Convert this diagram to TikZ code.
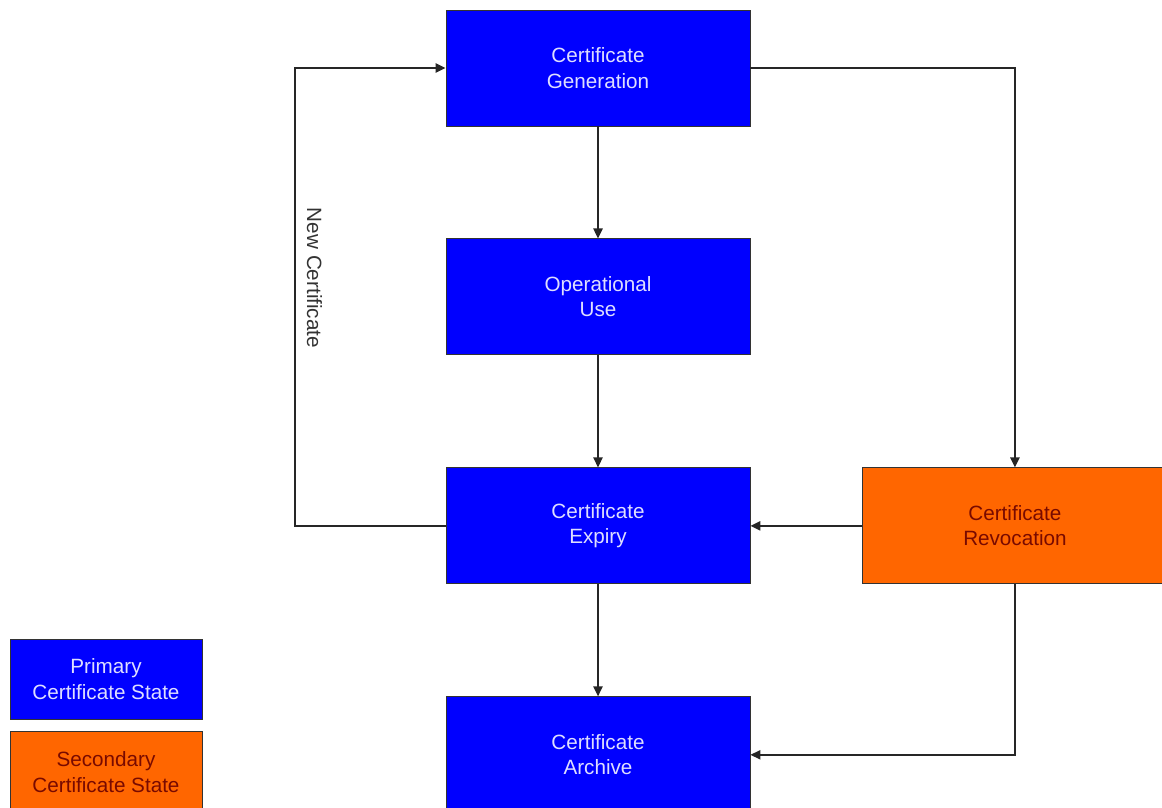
\documentclass[tikz,border=0pt]{standalone}
\usepackage{fontspec}
\setmainfont{Liberation Sans}
\usetikzlibrary{positioning, arrows.meta}
\definecolor{stateblue}{RGB}{0,0,255}
\definecolor{stateorange}{RGB}{255,102,0}
\definecolor{bluetext}{RGB}{222,222,255}
\definecolor{orangetext}{RGB}{120,10,0}

\begin{document}
\begin{tikzpicture}[x=0.75pt,y=-0.75pt,%
  node distance=84pt,
  StateStyle/.style={shape=rectangle,draw=black!80,line width=0.7pt,align=center,
    minimum width=228pt,minimum height=87pt,
    font=\fontsize{15.5}{19}\selectfont},
  PrimaryStyle/.style={StateStyle,fill=stateblue,text=bluetext},
  SecondaryStyle/.style={StateStyle,fill=stateorange,text=orangetext},
  KeyStyle/.style={minimum width=144pt,minimum height=60pt},
  EdgeStyle/.style={draw=black!85,line width=1.1pt,-{Triangle[length=7.5pt,width=7pt]}},
  LabelStyle/.style={rotate=-90,anchor=south,inner sep=9pt,outer sep=0pt,
    text=black!80,font=\fontsize{15.5}{19}\selectfont}]
  \useasboundingbox (0,0) rectangle (1162,807);
  \node[PrimaryStyle] (gen) at (598,68) {Certificate\\Generation};   % top state
  \node[PrimaryStyle,below=of gen] (use) {Operational\\Use};          % below generation
  \node[PrimaryStyle,below=of use] (exp) {Certificate\\Expiry};       % below use
  \node[PrimaryStyle,below=of exp] (arc) {Certificate\\Archive};      % below expiry
  \node[SecondaryStyle,right=of exp] (rev) {Certificate\\Revocation}; % east of expiry
  \node[PrimaryStyle,KeyStyle] (key1) at (106,679) {Primary\\Certificate State};
  \node[SecondaryStyle,KeyStyle,below=9pt of key1] (key2) {Secondary\\Certificate State};
  \coordinate (back) at (295,278);
  \draw[EdgeStyle] (gen) -- (use);
  \draw[EdgeStyle] (use) -- (exp);
  \draw[EdgeStyle] (exp) -- (arc);
  \draw[EdgeStyle] (gen.east) -| (rev.north);
  \draw[EdgeStyle] (rev.west) -- (exp.east);
  \draw[EdgeStyle] (rev.south) |- (arc.east);
  \draw[EdgeStyle] (exp.west) -| (back) node[LabelStyle] {New Certificate} |- (gen.west);
\end{tikzpicture}
\end{document}
